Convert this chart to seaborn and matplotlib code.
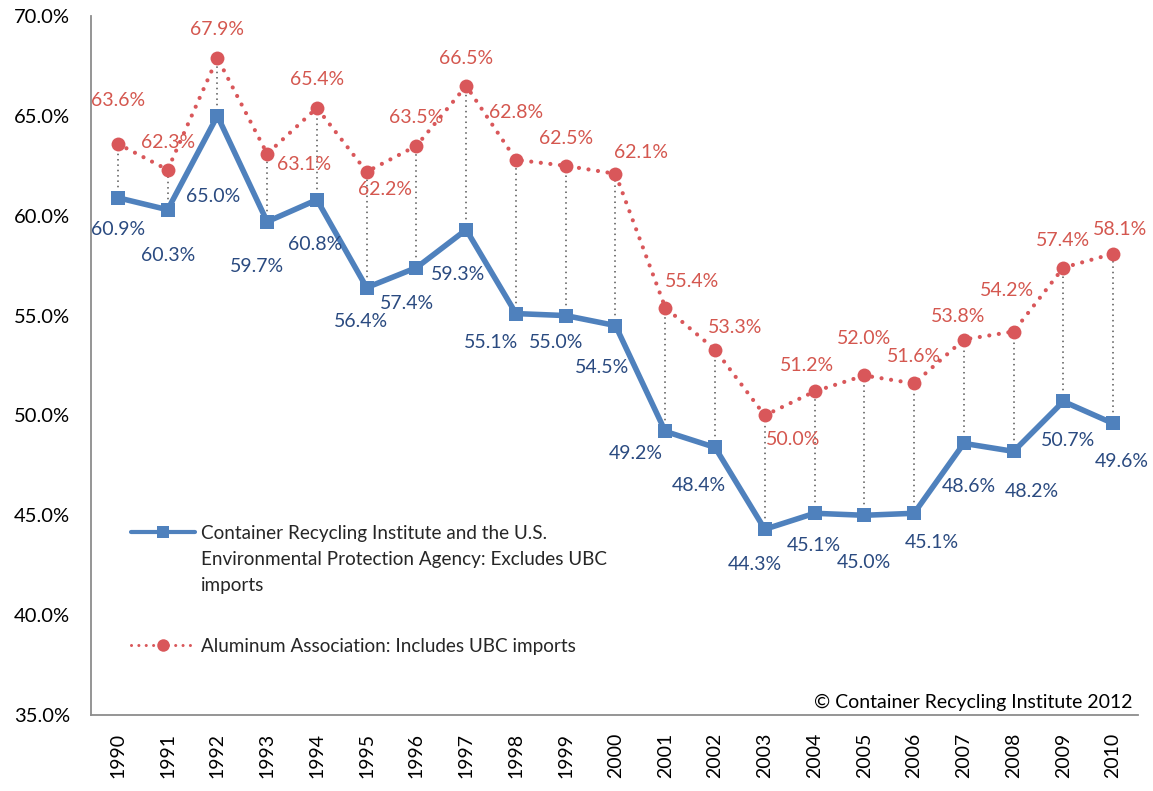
import matplotlib
matplotlib.use("Agg")
import matplotlib.pyplot as plt
import seaborn as sns
import pandas as pd
from matplotlib.lines import Line2D
from matplotlib.ticker import FuncFormatter

# data (percent)
years = list(range(1990, 2011))
cri_epa = [60.9, 60.3, 65.0, 59.7, 60.8, 56.4, 57.4, 59.3, 55.1, 55.0, 54.5,
           49.2, 48.4, 44.3, 45.1, 45.0, 45.1, 48.6, 48.2, 50.7, 49.6]
alum_assoc = [63.6, 62.3, 67.9, 63.1, 65.4, 62.2, 63.5, 66.5, 62.8, 62.5, 62.1,
              55.4, 53.3, 50.0, 51.2, 52.0, 51.6, 53.8, 54.2, 57.4, 58.1]

cri_label_lines = ["Container Recycling Institute and the U.S.",
                   "Environmental Protection Agency: Excludes UBC",
                   "imports"]
alum_label = "Aluminum Association: Includes UBC imports"
credit = "\u00a9 Container Recycling Institute 2012"

# label offsets in pixels (dx, dy downwards), placed like the original
cri_offsets = [(0, 32), (0, 46), (-4, 81), (-10, 45), (-2, 45), (-6, 34), (-9, 36),
               (-8, 45), (-25, 29), (-10, 27), (-13, 42), (-29, 22), (-16, 38),
               (-10, 35), (-1, 32), (0, 47), (18, 29), (5, 43), (18, 40), (5, 39), (9, 38)]
alum_offsets = [(0, -43), (0, -27), (0, -28), (37, 11), (0, -28), (18, 18), (0, -28),
                (0, -27), (0, -47), (0, -27), (26, -21), (27, -26), (20, -22),
                (28, 24), (-8, -26), (0, -37), (0, -27), (-6, -23), (-7, -41),
                (0, -27), (7, -24)]

BLUE = "#4F81BD"
RED = "#D9575A"
BLUE_TXT = "#2A4A80"
RED_TXT = "#D4574F"

sns.set_theme(style="white")
plt.rcParams["font.family"] = ["Lato", "DejaVu Sans"]

df = pd.DataFrame({"year": years, "cri": cri_epa, "alum": alum_assoc})

fig = plt.figure(figsize=(11.53, 7.91), dpi=100)
ax = fig.add_axes([91 / 1153, 1 - 715 / 791, 1047 / 1153, 699 / 791])

# dotted drop lines between the two series
ax.vlines(df["year"], df["cri"], df["alum"], colors="#555555",
          linestyles=(0, (1, 2.5)), linewidth=1.1, zorder=1)

sns.lineplot(data=df, x="year", y="cri", ax=ax, color=BLUE, linewidth=4,
             marker="s", markersize=10.5, markeredgewidth=0, zorder=3)
sns.lineplot(data=df, x="year", y="alum", ax=ax, color=RED, linewidth=3,
             linestyle=(0, (0.01, 2.3)), dash_capstyle="round",
             marker="o", markersize=10, markeredgewidth=0, zorder=3)

for x, y, (dx, dy) in zip(years, cri_epa, cri_offsets):
    ax.annotate(f"{y:.1f}%", (x, y), xytext=(dx, -dy), textcoords="offset pixels",
                ha="center", va="center", fontsize=14, color=BLUE_TXT, zorder=4)
for x, y, (dx, dy) in zip(years, alum_assoc, alum_offsets):
    ax.annotate(f"{y:.1f}%", (x, y), xytext=(dx, -dy), textcoords="offset pixels",
                ha="center", va="center", fontsize=14, color=RED_TXT, zorder=4)

ax.set_xlim(1989.46, 2010.5)
ax.set_ylim(35, 70)
ax.set_yticks([35, 40, 45, 50, 55, 60, 65, 70])
ax.yaxis.set_major_formatter(FuncFormatter(lambda v, p: f"{v:.1f}%"))
ax.set_xticks(years)
ax.set_xticklabels([str(y) for y in years], rotation=90)
ax.set_xlabel("")
ax.set_ylabel("")

for side in ["top", "right"]:
    ax.spines[side].set_visible(False)
for side in ["left", "bottom"]:
    ax.spines[side].set_color("#8C8C8C")
    ax.spines[side].set_linewidth(1.3)
ax.tick_params(axis="both", which="major", direction="out", length=5,
               width=1.2, color="#8C8C8C", labelcolor="black")
ax.tick_params(axis="y", pad=10, labelsize=14.5)
ax.tick_params(axis="x", pad=8, labelsize=14)

# legend: handle sits next to the first line of the wrapped label
blank = Line2D([], [], linestyle="none")
handles = [
    Line2D([], [], color=BLUE, linewidth=3, marker="s", markersize=8.5,
           markeredgewidth=0),
    blank, blank, blank,
    Line2D([], [], color=RED, linewidth=2.2, linestyle=(0, (0.01, 2.4)),
           dash_capstyle="round", marker="o", markersize=9, markeredgewidth=0),
]
labels = cri_label_lines + [" ", alum_label]
leg = ax.legend(handles, labels, loc="upper left",
                bbox_to_anchor=(131 / 1153, 1 - 525 / 791),
                bbox_transform=fig.transFigure, frameon=False, fontsize=13.6,
                handlelength=3.4, handletextpad=0.3, labelspacing=0.47,
                borderpad=0, borderaxespad=0)
# wider empty row before the second entry
leg.get_texts()[3].set_fontsize(20)

ax.text(0.995, 0.018, credit, transform=ax.transAxes, ha="right", va="center",
        fontsize=14, color="black")

fig.savefig("out.png", dpi=100)
